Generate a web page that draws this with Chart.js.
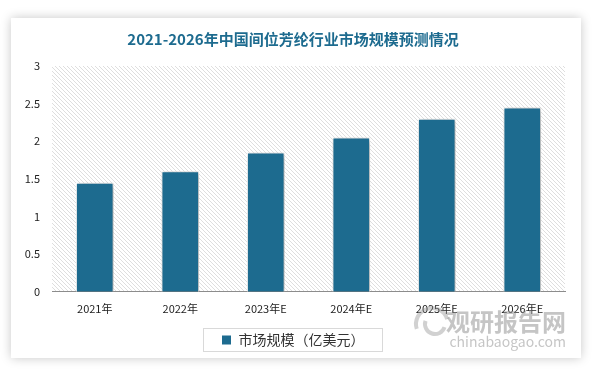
<!DOCTYPE html>
<html>
<head>
<meta charset="utf-8">
<script src="https://cdn.jsdelivr.net/npm/chart.js@4"></script>
<style>
  html, body { margin: 0; padding: 0; background: #ffffff; }
  #card {
    position: absolute; left: 11px; top: 18px; width: 570px; height: 340px;
    background: #fff; box-shadow: 0 0 10px rgba(0,0,0,0.22);
  }
</style>
</head>
<body>
<div id="card"><canvas id="c" width="570" height="340"></canvas></div>
<script>
// 年份
const categories = ['2021年', '2022年', '2023年E', '2024年E', '2025年E', '2026年E'];
// 市场规模（亿美元）
const marketSize = [1.45, 1.6, 1.85, 2.05, 2.3, 2.45];
const yTicks = [0, 0.5, 1, 1.5, 2, 2.5, 3];

const titleText = '2021-2026年中国间位芳纶行业市场规模预测情况';
const seriesName = '市场规模（亿美元）';
const barColor = '#1d6b8f';
const fontFamily = '"Noto Sans CJK SC", "Noto Sans", sans-serif';

// 斜线背景
function makeHatch(ctx) {
    const p = document.createElement('canvas');
    p.width = 4; p.height = 4;
    const g = p.getContext('2d');
    g.fillStyle = '#ffffff';
    g.fillRect(0, 0, 4, 4);
    g.strokeStyle = '#dedede';
    g.lineWidth = 1;
    g.beginPath();
    g.moveTo(0, 0); g.lineTo(4, 4);
    g.moveTo(-1, 3); g.lineTo(1, 5);
    g.moveTo(3, -1); g.lineTo(5, 1);
    g.stroke();
    return ctx.createPattern(p, 'repeat');
}

const hatchPlugin = {
    id: 'hatch',
    beforeDraw(chart) {
        const { ctx, chartArea } = chart;
        ctx.save();
        ctx.fillStyle = makeHatch(ctx);
        ctx.fillRect(chartArea.left, chartArea.top, chartArea.right - chartArea.left, chartArea.bottom - chartArea.top);
        ctx.restore();
    }
};

// 柱子阴影
const shadowPlugin = {
    id: 'barShadow',
    beforeDatasetsDraw(chart) {
        chart.ctx.save();
        chart.ctx.shadowColor = 'rgba(0,0,0,0.35)';
        chart.ctx.shadowBlur = 6;
        chart.ctx.shadowOffsetX = 2;
        chart.ctx.shadowOffsetY = 1;
    },
    afterDatasetsDraw(chart) {
        chart.ctx.restore();
    }
};

// 图例边框 + 水印
const legendBoxPlugin = {
    id: 'legendBox',
    afterDraw(chart) {
        const { ctx, legend } = chart;
        ctx.save();
        const hb = legend.legendHitBoxes[0];
        if (hb) {
            ctx.strokeStyle = '#d9d9d9';
            ctx.lineWidth = 1;
            const x = Math.round(hb.left - 19) + 0.5;
            const y = Math.round(hb.top - 5) + 0.5;
            ctx.strokeRect(x, y, Math.round(hb.width + 36), Math.round(hb.height + 9));
        }
        // 水印
        ctx.fillStyle = 'rgba(140,140,140,0.5)';
        ctx.strokeStyle = 'rgba(140,140,140,0.4)';
        ctx.lineWidth = 4;
        ctx.beginPath();
        ctx.arc(421, 306, 16, Math.PI * 0.9, Math.PI * 1.9);
        ctx.stroke();
        ctx.beginPath();
        ctx.arc(424, 306, 10, Math.PI * 0.1, Math.PI * 1.1);
        ctx.stroke();
        ctx.textAlign = 'right';
        ctx.textBaseline = 'alphabetic';
        ctx.font = 'bold 24px ' + fontFamily;
        ctx.fillText('观研报告网', 555, 313);
        ctx.font = '14px ' + fontFamily;
        ctx.fillText('chinabaogao.com', 555, 329);
        ctx.restore();
    }
};

const ctx = document.getElementById('c').getContext('2d');
new Chart(ctx, {
    type: 'bar',
    data: {
        labels: categories,
        datasets: [{
            label: seriesName,
            data: marketSize,
            backgroundColor: barColor,
            borderColor: '#ffffff',
            borderWidth: 1,
            barPercentage: 0.44,
            categoryPercentage: 1
        }]
    },
    options: {
        responsive: false,
        animation: false,
        layout: { padding: { left: 10, right: 16, top: 0, bottom: 1 } },
        plugins: {
            title: {
                display: true,
                text: titleText,
                color: '#1d6b8f',
                font: { family: fontFamily, size: 15, weight: 'bold' },
                padding: { top: 12, bottom: 18 }
            },
            legend: {
                display: true,
                position: 'bottom',
                labels: {
                    color: '#333',
                    font: { family: fontFamily, size: 14 },
                    boxWidth: 10,
                    boxHeight: 10,
                    padding: 8
                }
            },
            tooltip: { enabled: false }
        },
        scales: {
            x: {
                grid: { display: false, drawTicks: false },
                border: { display: true, color: '#8c8c8c', width: 1 },
                ticks: { color: '#222', font: { family: fontFamily, size: 11 }, padding: 10 }
            },
            y: {
                min: 0,
                max: 3,
                afterBuildTicks(axis) { axis.ticks = yTicks.map(v => ({ value: v })); },
                afterFit(axis) { axis.width = 31; },
                grid: { display: false, drawTicks: false },
                border: { display: false },
                ticks: {
                    color: '#222',
                    font: { family: fontFamily, size: 11 },
                    padding: 12,
                    callback: v => String(v)
                }
            }
        }
    },
    plugins: [hatchPlugin, shadowPlugin, legendBoxPlugin]
});
</script>
</body>
</html>
